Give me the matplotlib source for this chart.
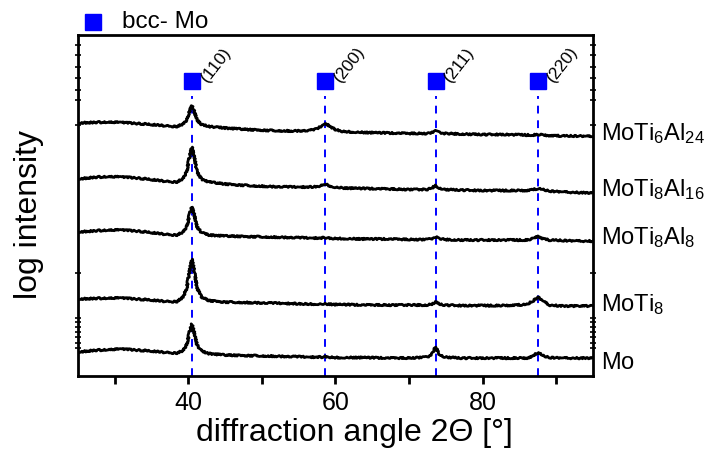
"""XRD patterns of the Mo / MoTi / MoTiAl films with bcc-Mo reflections marked."""

import matplotlib
matplotlib.use("Agg")
import matplotlib.pyplot as plt
from matplotlib.lines import Line2D

plt.rcParams.update({
    "font.family": ["Liberation Sans", "DejaVu Sans"],
    "mathtext.fontset": "custom",
    "mathtext.rm": "Liberation Sans",
    "mathtext.it": "Liberation Sans",
    "axes.linewidth": 2.0,
})

# 2theta sampling points (deg)
two_theta = [25, 27, 29, 31, 33, 35, 37, 38.5, 39.3, 39.8, 40.2, 40.5, 40.8,
             41.2, 41.8, 42.8, 45, 48, 51, 54, 56.5, 57.5, 58.1, 58.6, 59.1,
             59.8, 61, 64, 67, 70, 72.5, 73.1, 73.6, 74.1, 74.8, 77, 80, 83,
             86, 86.9, 87.5, 88.1, 89, 91, 93, 95]

# stacked log intensity (arbitrary units, offset per sample)
mo = [24, 25.5, 26.5, 27, 26, 25, 23.5, 23, 25.5, 31.5, 44.5, 52, 44, 31, 25,
      22.5, 21, 20.5, 20, 19.5, 19, 19, 19, 19.5, 19, 18.5, 18.5, 18.5, 18,
      18, 19, 22, 29, 22, 19, 18, 18, 18, 18, 20, 24, 20.5, 18.5, 18, 18, 18]
moti8 = [77, 77.5, 78, 78, 77, 76, 74.5, 74.5, 79, 88, 106, 117, 106, 88, 79,
         75.5, 74, 73.5, 73, 72.5, 72, 72, 72, 72, 72, 71.5, 71.5, 71, 71, 71,
         71, 72, 74, 72, 71, 70.5, 70.5, 70.5, 71.5, 75.5, 79, 75.5, 71, 70,
         70, 70]
moti8al8 = [144, 145, 146, 146, 145, 143.5, 141.5, 141, 144, 149.5, 162, 169,
            162, 149, 143.5, 141, 140, 139.5, 139, 138.5, 138, 138, 138, 138.5,
            138, 137.5, 137.5, 137, 137, 136.5, 136.5, 137.5, 139, 137.5, 136.5,
            136, 136, 136, 136, 137.5, 140, 137.5, 136, 135.5, 135, 135]
moti8al16 = [197, 198.5, 199.5, 199, 198, 196.5, 194.5, 194, 197.5, 204.5, 220,
             229, 220, 204, 197, 194, 192, 190.5, 189.5, 189, 189, 189.5, 190.5,
             192, 190.5, 189, 188, 187.5, 187, 186.5, 186.5, 188, 190.5, 188,
             186.5, 186, 185.5, 185.5, 185.5, 186.5, 187.5, 186.5, 185, 184,
             183.5, 183]
moti6al24 = [253, 253.5, 254, 253.5, 252.5, 251.5, 250, 249.5, 252, 256, 265,
             270, 265, 256, 251.5, 249.5, 248, 246.5, 245.5, 245, 245.5, 247,
             250, 252.5, 250.5, 247, 244.5, 243.5, 243, 242.5, 242.5, 243.5, 245,
             243.5, 242.5, 242, 241.5, 241.5, 241, 241, 241.5, 241, 240.5, 240,
             240, 239.5]

series = [mo, moti8, moti8al8, moti8al16, moti6al24]
labels = [r"$\mathregular{Mo}$", r"$\mathregular{MoTi_8}$",
          r"$\mathregular{MoTi_8Al_8}$", r"$\mathregular{MoTi_8Al_{16}}$",
          r"$\mathregular{MoTi_6Al_{24}}$"]
label_y = [13, 71, 138, 186, 242]

# bcc-Mo reflections
hkl = ["(110)", "(200)", "(211)", "(220)"]
hkl_pos = [40.5, 58.6, 73.6, 87.5]

fig = plt.figure(figsize=(7.07, 4.66), dpi=100)
ax = fig.add_axes([0.110, 0.193, 0.729, 0.732])

for y in series:
    line, = ax.plot(two_theta, y, color="black", lw=2.0, zorder=3)
    line.set_sketch_params(scale=0.8, length=2.0, randomness=3)

marker_y = 295
for h, p in zip(hkl, hkl_pos):
    ax.plot([p, p], [0, 280], color="blue", lw=1.4, ls=(0, (4, 3.5)), zorder=2)
    ax.plot(p, marker_y, "s", color="blue", ms=11.5, zorder=4)
    ax.text(p + 1.6, marker_y + 1, h, rotation=52, fontsize=12.5,
            ha="left", va="center", rotation_mode="anchor", zorder=5)

for lab, ly in zip(labels, label_y):
    ax.text(1.015, ly, lab, transform=ax.get_yaxis_transform(), fontsize=17,
            ha="left", va="center", clip_on=False)

# legend, outside top-left
fig.add_artist(Line2D([0.1315], [0.952], marker="s", ms=11, color="blue",
                      transform=fig.transFigure))
fig.text(0.172, 0.952, "bcc- Mo", fontsize=17.5, ha="left", va="center")

ax.set_xlim(25, 95)
ax.set_ylim(0, 341)
ax.set_xticks([40, 60, 80])
ax.set_xticks([30, 50, 70, 90], minor=True)
ax.tick_params(axis="x", which="both", direction="out", length=6, width=2,
               labelsize=18, pad=5)
ax.set_yticks([])
ax.set_yticks([331, 321, 309, 298, 286, 276, 251, 103, 58, 54, 49, 44, 39,
               33, 28], minor=True)
ax.tick_params(axis="y", which="minor", direction="inout", length=4,
               width=1.2, left=True, right=True)
ax.set_xlabel("diffraction angle 2\u0398 [\u00b0]", fontsize=23)
ax.set_ylabel("log intensity", fontsize=23)
ax.xaxis.set_label_coords(0.536, -0.123)
ax.yaxis.set_label_coords(-0.066, 0.475)

fig.savefig("out.png", dpi=100)
